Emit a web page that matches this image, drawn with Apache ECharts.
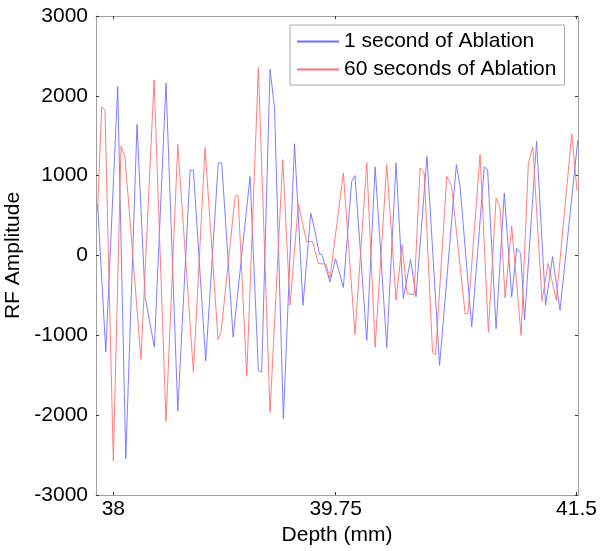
<html>
<head>
    <meta charset='utf-8' />
    <script src="https://cdn.jsdelivr.net/npm/echarts@6/dist/echarts.min.js"></script>
    <title>RF Amplitude</title>
    <style>
        body { margin: 0; background: #fff; }
        #chart { width: 601px; height: 551px; }
    </style>
</head>
<body>
    <div id="chart"></div>
    <script type="text/javascript">
        // depth (mm) and RF amplitude, one pair per visible vertex
        var depth1s = [37.881, 37.943, 38.033, 38.094, 38.179, 38.240, 38.310, 38.398, 38.487, 38.580,
            38.605, 38.698, 38.793, 38.819, 38.905, 39.033, 39.096, 39.121, 39.184, 39.218,
            39.285, 39.369, 39.433, 39.492, 39.524, 39.557, 39.575, 39.637, 39.679, 39.738,
            39.801, 39.826, 39.915, 39.978, 40.066, 40.136, 40.191, 40.246, 40.287, 40.370,
            40.465, 40.592, 40.620, 40.708, 40.803, 40.828, 40.892, 40.954, 41.010, 41.048,
            41.078, 41.107, 41.198, 41.266, 41.319, 41.375, 41.509];
        var amp1s = [650, -1210, 2116, -2548, 1642, -518, -1150, 2160, -1950, 1067,
            1067, -1320, 1160, 1160, -1021, 991, -1440, -1462, 2334, 1850,
            -2048, 1400, -623, 531, 300, 15, 15, -330, -40, -400,
            929, 1000, -1063, 1110, -1150, 1160, -538, -50, -518, 1243,
            -1377, 1140, 865, -896, 1110, 1075, -916, 782, -518, 90,
            28, -811, 1432, -623, -15, -686, 1440];

        var depth60s = [37.881, 37.912, 37.937, 38.000, 38.058, 38.088, 38.209, 38.308, 38.398, 38.487,
            38.605, 38.693, 38.791, 38.814, 38.920, 38.942, 39.008, 39.096, 39.184, 39.280,
            39.335, 39.398, 39.460, 39.505, 39.549, 39.607, 39.637, 39.738, 39.826, 39.915,
            39.978, 40.066, 40.136, 40.182, 40.219, 40.272, 40.318, 40.349, 40.412, 40.435,
            40.519, 40.556, 40.658, 40.680, 40.771, 40.834, 40.892, 40.922, 40.960, 41.010,
            41.081, 41.136, 41.170, 41.239, 41.285, 41.347, 41.464, 41.504];
        var amp60s = [550, 1864, 1822, -2573, 1369, 1235, -1300, 2199, -2075, 1390,
            -1462, 1349, -1050, -960, 740, 760, -1503, 2355, -1965, 1201,
            -623, 650, 174, 174, -100, -110, -280, 1034, -990, 1160,
            -1150, 1138, -560, 132, -476, -490, 1097, 1034, -1215, -1240,
            991, 870, -727, -727, 1264, -958, 720, 600, -530, 370,
            -1000, 1160, 1360, -570, -98, -560, 1525, 810];

        var xTickValues = [38, 39.68, 41.5];
        var xTickLabels = ['38', '39.75', '41.5'];
        var seriesNames = ['1 second of Ablation', '60 seconds of Ablation'];
        var seriesColors = ['#7070ff', '#ff7070'];

        function pairs(xs, ys) {
            return xs.map(function(x, i) { return [x, ys[i]]; });
        }

        var font = 'Liberation Sans, Arial, sans-serif';
        var frameColor = '#a0a0a0';
        var tickStyle = { inside: true, length: 3, lineStyle: { color: '#333', width: 1 } };

        var xMin = 37.869, xMax = 41.511;

        var chart = echarts.init(document.getElementById('chart'), null, { renderer: 'canvas' });
        var option = {
            animation: false,
            backgroundColor: '#fff',
            grid: { left: 96, right: 23, top: 16, bottom: 56, containLabel: false, outerBoundsMode: 'none' },
            legend: {
                orient: 'vertical',
                left: 290,
                top: 25,
                padding: [6, 8, 5, 7],
                itemGap: 7,
                itemWidth: 42,
                itemHeight: 2,
                backgroundColor: '#fff',
                borderColor: '#a8a8a8',
                borderWidth: 1,
                textStyle: { fontFamily: font, fontSize: 21, color: '#000' },
                data: seriesNames.map(function(n, i) {
                    return { name: n, icon: 'rect', itemStyle: { color: seriesColors[i] } };
                })
            },
            xAxis: [{
                type: 'value',
                position: 'bottom',
                min: xMin,
                max: xMax,
                name: 'Depth (mm)',
                nameLocation: 'middle',
                nameGap: 19,
                nameTextStyle: { fontFamily: font, fontSize: 21, color: '#000' },
                axisLine: { onZero: false, lineStyle: { color: frameColor } },
                axisTick: Object.assign({ customValues: xTickValues }, tickStyle),
                axisLabel: {
                    customValues: xTickValues,
                    margin: 4,
                    fontFamily: font,
                    fontSize: 21,
                    color: '#000',
                    formatter: function(v) {
                        var i = xTickValues.indexOf(v);
                        return i >= 0 ? xTickLabels[i] : '';
                    }
                },
                splitLine: { show: false }
            }, {
                type: 'value',
                position: 'top',
                min: xMin,
                max: xMax,
                axisLine: { onZero: false, lineStyle: { color: frameColor } },
                axisTick: Object.assign({ customValues: xTickValues }, tickStyle),
                axisLabel: { show: false },
                splitLine: { show: false }
            }],
            yAxis: [{
                type: 'value',
                position: 'left',
                min: -3000,
                max: 3000,
                interval: 1000,
                name: 'RF Amplitude',
                nameLocation: 'middle',
                nameGap: 71,
                nameTextStyle: { fontFamily: font, fontSize: 21, color: '#000' },
                axisLine: { show: true, onZero: false, lineStyle: { color: frameColor } },
                axisTick: tickStyle,
                axisLabel: {
                    margin: 8, fontFamily: font, fontSize: 21, color: '#000',
                    formatter: function(v) { return String(v); }
                },
                splitLine: { show: false }
            }, {
                type: 'value',
                position: 'right',
                min: -3000,
                max: 3000,
                interval: 1000,
                axisLine: { show: true, onZero: false, lineStyle: { color: frameColor } },
                axisTick: tickStyle,
                axisLabel: { show: false },
                splitLine: { show: false }
            }],
            series: [{
                name: seriesNames[0],
                type: 'line',
                symbol: 'none',
                xAxisIndex: 0,
                yAxisIndex: 0,
                color: seriesColors[0],
                lineStyle: { color: seriesColors[0], width: 0.9 },
                data: pairs(depth1s, amp1s)
            }, {
                name: seriesNames[1],
                type: 'line',
                symbol: 'none',
                xAxisIndex: 0,
                yAxisIndex: 0,
                color: seriesColors[1],
                lineStyle: { color: seriesColors[1], width: 0.9 },
                data: pairs(depth60s, amp60s)
            }]
        };
        chart.setOption(option);
    </script>
</body>
</html>
